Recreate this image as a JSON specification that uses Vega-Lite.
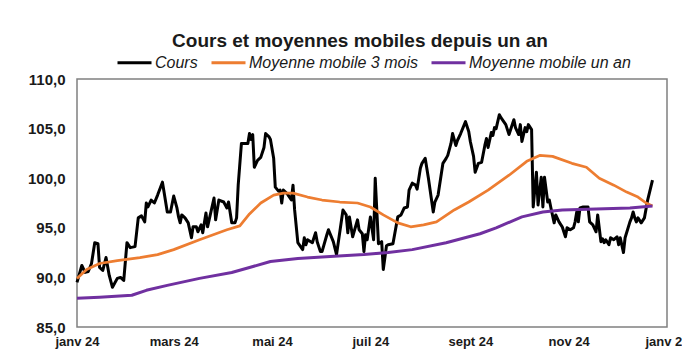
{
  "$schema": "https://vega.github.io/schema/vega-lite/v6.json",
  "width": 590,
  "height": 248,
  "autosize": {"type": "none"},
  "padding": {"left": 77, "top": 79, "right": 15, "bottom": 37},
  "background": "white",
  "config": {
    "font": "Liberation Sans",
    "view": {"stroke": "#808080", "strokeWidth": 1.5}
  },
  "title": {
    "text": "Cours et moyennes mobiles depuis un an",
    "anchor": "middle",
    "dx": -12,
    "offset": -7,
    "font": "Liberation Sans",
    "fontSize": 19,
    "fontWeight": "bold",
    "color": "#1a1a1a"
  },
  "datasets": {
    "cours": [
      {"date":"2024-01-01","valeur":89.5},{"date":"2024-01-04","valeur":91.2},{"date":"2024-01-06","valeur":90.5},{"date":"2024-01-08","valeur":90.6},{"date":"2024-01-10","valeur":91.4},{"date":"2024-01-12","valeur":93.5},{"date":"2024-01-14","valeur":93.4},{"date":"2024-01-15","valeur":91.0},{"date":"2024-01-17","valeur":90.7},{"date":"2024-01-19","valeur":92.0},{"date":"2024-01-21","valeur":90.2},{"date":"2024-01-23","valeur":89.0},{"date":"2024-01-26","valeur":89.9},{"date":"2024-01-28","valeur":90.0},{"date":"2024-01-30","valeur":89.7},
      {"date":"2024-02-01","valeur":93.5},{"date":"2024-02-03","valeur":93.0},{"date":"2024-02-06","valeur":93.1},{"date":"2024-02-08","valeur":96.0},{"date":"2024-02-10","valeur":96.2},{"date":"2024-02-12","valeur":95.6},{"date":"2024-02-13","valeur":97.5},{"date":"2024-02-14","valeur":97.1},{"date":"2024-02-16","valeur":97.8},{"date":"2024-02-18","valeur":97.5},{"date":"2024-02-20","valeur":98.3},{"date":"2024-02-23","valeur":99.6},{"date":"2024-02-24","valeur":98.6},{"date":"2024-02-26","valeur":96.6},{"date":"2024-02-28","valeur":96.6},
      {"date":"2024-03-01","valeur":98.2},{"date":"2024-03-03","valeur":97.0},{"date":"2024-03-04","valeur":96.1},{"date":"2024-03-05","valeur":95.5},{"date":"2024-03-06","valeur":96.3},{"date":"2024-03-08","valeur":96.0},{"date":"2024-03-10","valeur":95.5},{"date":"2024-03-12","valeur":94.0},{"date":"2024-03-13","valeur":95.1},{"date":"2024-03-15","valeur":95.1},{"date":"2024-03-16","valeur":94.6},{"date":"2024-03-18","valeur":95.3},{"date":"2024-03-19","valeur":94.5},{"date":"2024-03-21","valeur":96.5},{"date":"2024-03-22","valeur":95.1},{"date":"2024-03-26","valeur":98.0},{"date":"2024-03-27","valeur":95.8},{"date":"2024-03-29","valeur":97.8},
      {"date":"2024-04-01","valeur":97.6},{"date":"2024-04-03","valeur":97.0},{"date":"2024-04-04","valeur":97.6},{"date":"2024-04-06","valeur":95.5},{"date":"2024-04-08","valeur":95.5},{"date":"2024-04-09","valeur":96.0},{"date":"2024-04-10","valeur":99.3},{"date":"2024-04-12","valeur":103.5},{"date":"2024-04-16","valeur":103.5},{"date":"2024-04-17","valeur":104.5},{"date":"2024-04-18","valeur":103.9},{"date":"2024-04-19","valeur":104.4},{"date":"2024-04-20","valeur":101.1},{"date":"2024-04-22","valeur":101.8},{"date":"2024-04-24","valeur":102.1},{"date":"2024-04-26","valeur":103.1},{"date":"2024-04-27","valeur":104.5},{"date":"2024-04-29","valeur":104.2},{"date":"2024-04-30","valeur":103.9},
      {"date":"2024-05-02","valeur":102.0},{"date":"2024-05-03","valeur":99.1},{"date":"2024-05-05","valeur":98.7},{"date":"2024-05-06","valeur":98.8},{"date":"2024-05-07","valeur":97.5},{"date":"2024-05-08","valeur":98.8},{"date":"2024-05-10","valeur":98.5},{"date":"2024-05-11","valeur":98.3},{"date":"2024-05-13","valeur":97.8},{"date":"2024-05-14","valeur":99.3},{"date":"2024-05-15","valeur":96.8},{"date":"2024-05-17","valeur":93.5},{"date":"2024-05-20","valeur":92.8},{"date":"2024-05-21","valeur":94.0},{"date":"2024-05-22","valeur":93.3},{"date":"2024-05-23","valeur":93.8},{"date":"2024-05-26","valeur":93.5},{"date":"2024-05-28","valeur":94.5},{"date":"2024-05-29","valeur":93.6},{"date":"2024-05-31","valeur":92.6},
      {"date":"2024-06-01","valeur":92.6},{"date":"2024-06-04","valeur":94.3},{"date":"2024-06-05","valeur":94.8},{"date":"2024-06-08","valeur":93.6},{"date":"2024-06-10","valeur":92.3},{"date":"2024-06-14","valeur":96.8},{"date":"2024-06-16","valeur":96.3},{"date":"2024-06-17","valeur":94.5},{"date":"2024-06-18","valeur":96.1},{"date":"2024-06-20","valeur":94.1},{"date":"2024-06-23","valeur":95.8},{"date":"2024-06-24","valeur":94.8},{"date":"2024-06-26","valeur":94.4},{"date":"2024-06-27","valeur":92.6},{"date":"2024-06-28","valeur":94.3},{"date":"2024-06-29","valeur":93.8},
      {"date":"2024-07-01","valeur":96.1},{"date":"2024-07-03","valeur":93.8},{"date":"2024-07-04","valeur":100.0},{"date":"2024-07-06","valeur":93.4},{"date":"2024-07-08","valeur":93.6},{"date":"2024-07-09","valeur":90.8},{"date":"2024-07-11","valeur":93.2},{"date":"2024-07-12","valeur":93.3},{"date":"2024-07-15","valeur":93.4},{"date":"2024-07-18","valeur":96.1},{"date":"2024-07-20","valeur":96.3},{"date":"2024-07-22","valeur":97.0},{"date":"2024-07-24","valeur":97.1},{"date":"2024-07-25","valeur":98.8},{"date":"2024-07-27","valeur":99.5},{"date":"2024-07-29","valeur":99.3},{"date":"2024-07-30","valeur":98.9},
      {"date":"2024-08-01","valeur":101.0},{"date":"2024-08-02","valeur":101.5},{"date":"2024-08-04","valeur":102.0},{"date":"2024-08-06","valeur":100.0},{"date":"2024-08-09","valeur":96.6},{"date":"2024-08-10","valeur":97.6},{"date":"2024-08-12","valeur":98.3},{"date":"2024-08-15","valeur":101.5},{"date":"2024-08-17","valeur":102.0},{"date":"2024-08-18","valeur":102.3},{"date":"2024-08-20","valeur":103.5},{"date":"2024-08-21","valeur":104.5},{"date":"2024-08-23","valeur":103.3},{"date":"2024-08-24","valeur":103.8},{"date":"2024-08-26","valeur":104.5},{"date":"2024-08-29","valeur":105.7},{"date":"2024-08-31","valeur":104.7},
      {"date":"2024-09-01","valeur":103.7},{"date":"2024-09-03","valeur":102.2},{"date":"2024-09-04","valeur":100.6},{"date":"2024-09-06","valeur":101.5},{"date":"2024-09-08","valeur":101.6},{"date":"2024-09-10","valeur":103.3},{"date":"2024-09-11","valeur":104.0},{"date":"2024-09-12","valeur":103.1},{"date":"2024-09-14","valeur":104.6},{"date":"2024-09-15","valeur":104.3},{"date":"2024-09-16","valeur":105.1},{"date":"2024-09-17","valeur":105.0},{"date":"2024-09-19","valeur":106.4},{"date":"2024-09-20","valeur":106.1},{"date":"2024-09-23","valeur":105.4},{"date":"2024-09-25","valeur":104.4},{"date":"2024-09-28","valeur":105.9},{"date":"2024-09-29","valeur":105.1},
      {"date":"2024-10-01","valeur":104.4},{"date":"2024-10-02","valeur":105.4},{"date":"2024-10-03","valeur":103.7},{"date":"2024-10-05","valeur":105.1},{"date":"2024-10-06","valeur":104.7},{"date":"2024-10-07","valeur":105.4},{"date":"2024-10-09","valeur":104.9},{"date":"2024-10-10","valeur":97.1},{"date":"2024-10-12","valeur":100.6},{"date":"2024-10-13","valeur":97.3},{"date":"2024-10-15","valeur":100.1},{"date":"2024-10-16","valeur":97.1},{"date":"2024-10-17","valeur":100.1},{"date":"2024-10-19","valeur":97.6},{"date":"2024-10-20","valeur":97.8},{"date":"2024-10-21","valeur":97.0},{"date":"2024-10-23","valeur":95.5},{"date":"2024-10-24","valeur":96.3},{"date":"2024-10-26","valeur":95.6},{"date":"2024-10-28","valeur":95.1},{"date":"2024-10-30","valeur":94.1},{"date":"2024-10-31","valeur":95.0},
      {"date":"2024-11-02","valeur":94.8},{"date":"2024-11-04","valeur":95.0},{"date":"2024-11-05","valeur":95.6},{"date":"2024-11-06","valeur":96.6},{"date":"2024-11-07","valeur":95.6},{"date":"2024-11-08","valeur":97.0},{"date":"2024-11-10","valeur":97.1},{"date":"2024-11-13","valeur":97.1},{"date":"2024-11-14","valeur":95.6},{"date":"2024-11-16","valeur":95.3},{"date":"2024-11-18","valeur":94.6},{"date":"2024-11-19","valeur":96.3},{"date":"2024-11-21","valeur":93.6},{"date":"2024-11-22","valeur":93.9},{"date":"2024-11-23","valeur":93.5},{"date":"2024-11-24","valeur":93.8},{"date":"2024-11-26","valeur":93.3},{"date":"2024-11-27","valeur":94.0},{"date":"2024-11-29","valeur":93.8},
      {"date":"2024-12-01","valeur":94.1},{"date":"2024-12-02","valeur":93.3},{"date":"2024-12-03","valeur":94.0},{"date":"2024-12-05","valeur":92.5},{"date":"2024-12-06","valeur":94.0},{"date":"2024-12-09","valeur":95.6},{"date":"2024-12-10","valeur":96.0},{"date":"2024-12-11","valeur":96.6},{"date":"2024-12-12","valeur":96.0},{"date":"2024-12-13","valeur":95.6},{"date":"2024-12-14","valeur":96.0},{"date":"2024-12-16","valeur":95.5},{"date":"2024-12-18","valeur":96.0},{"date":"2024-12-20","valeur":97.8},{"date":"2024-12-23","valeur":99.8}
    ],
    "mm3": [
      {"date":"2024-01-01","valeur":89.9},{"date":"2024-01-07","valeur":90.8},{"date":"2024-01-15","valeur":91.4},{"date":"2024-01-26","valeur":91.7},{"date":"2024-02-09","valeur":92.0},{"date":"2024-02-20","valeur":92.3},{"date":"2024-03-01","valeur":92.8},{"date":"2024-03-17","valeur":93.8},{"date":"2024-04-03","valeur":94.8},{"date":"2024-04-11","valeur":95.2},{"date":"2024-04-17","valeur":96.4},{"date":"2024-04-24","valeur":97.5},{"date":"2024-05-02","valeur":98.3},{"date":"2024-05-08","valeur":98.5},{"date":"2024-05-14","valeur":98.5},{"date":"2024-05-23","valeur":98.1},{"date":"2024-06-01","valeur":97.8},{"date":"2024-06-12","valeur":97.6},{"date":"2024-06-23","valeur":97.5},{"date":"2024-07-01","valeur":97.1},{"date":"2024-07-09","valeur":96.3},{"date":"2024-07-18","valeur":95.5},{"date":"2024-07-26","valeur":95.1},{"date":"2024-08-03","valeur":95.3},{"date":"2024-08-11","valeur":95.6},{"date":"2024-08-22","valeur":96.8},{"date":"2024-08-31","valeur":97.6},{"date":"2024-09-12","valeur":98.8},{"date":"2024-09-25","valeur":100.3},{"date":"2024-10-06","valeur":101.7},{"date":"2024-10-14","valeur":102.3},{"date":"2024-10-22","valeur":102.2},{"date":"2024-11-03","valeur":101.5},{"date":"2024-11-12","valeur":101.1},{"date":"2024-11-20","valeur":100.0},{"date":"2024-11-29","valeur":99.3},{"date":"2024-12-07","valeur":98.6},{"date":"2024-12-14","valeur":98.1},{"date":"2024-12-19","valeur":97.5},{"date":"2024-12-23","valeur":97.2}
    ],
    "mm12": [
      {"date":"2024-01-01","valeur":87.9},{"date":"2024-01-15","valeur":88.0},{"date":"2024-02-04","valeur":88.2},{"date":"2024-02-13","valeur":88.7},{"date":"2024-02-26","valeur":89.2},{"date":"2024-03-17","valeur":89.9},{"date":"2024-04-06","valeur":90.5},{"date":"2024-04-17","valeur":91.0},{"date":"2024-04-30","valeur":91.6},{"date":"2024-05-17","valeur":91.9},{"date":"2024-06-06","valeur":92.1},{"date":"2024-06-27","valeur":92.3},{"date":"2024-07-12","valeur":92.5},{"date":"2024-07-27","valeur":92.8},{"date":"2024-08-17","valeur":93.5},{"date":"2024-09-07","valeur":94.4},{"date":"2024-09-17","valeur":95.0},{"date":"2024-10-03","valeur":96.1},{"date":"2024-10-16","valeur":96.6},{"date":"2024-10-28","valeur":96.8},{"date":"2024-11-18","valeur":96.9},{"date":"2024-12-09","valeur":97.0},{"date":"2024-12-23","valeur":97.2}
    ]
  },
  "layer": [
    {
      "data": {"name": "cours"},
      "transform": [{"calculate": "'Cours'", "as": "serie"}],
      "mark": {"type": "line", "strokeWidth": 3, "strokeJoin": "round"},
      "encoding": {
        "x": {"field": "date", "type": "temporal"},
        "y": {"field": "valeur", "type": "quantitative"},
        "color": {"field": "serie", "type": "nominal"}
      }
    },
    {
      "data": {"name": "mm3"},
      "transform": [{"calculate": "'Moyenne mobile 3 mois'", "as": "serie"}],
      "mark": {"type": "line", "strokeWidth": 2.75, "strokeJoin": "round"},
      "encoding": {
        "x": {"field": "date", "type": "temporal"},
        "y": {"field": "valeur", "type": "quantitative"},
        "color": {"field": "serie", "type": "nominal"}
      }
    },
    {
      "data": {"name": "mm12"},
      "transform": [{"calculate": "'Moyenne mobile un an'", "as": "serie"}],
      "mark": {"type": "line", "strokeWidth": 3, "strokeJoin": "round"},
      "encoding": {
        "x": {"field": "date", "type": "temporal"},
        "y": {"field": "valeur", "type": "quantitative"},
        "color": {"field": "serie", "type": "nominal"}
      }
    }
  ],
  "resolve": {"scale": {"color": "shared"}},
  "encoding": {
    "x": {
      "field": "date",
      "type": "temporal",
      "title": null,
      "scale": {
        "type": "utc",
        "domain": [
          {"year": 2024, "month": 1, "date": 1, "utc": true},
          {"year": 2025, "month": 1, "date": 1, "utc": true}
        ],
        "nice": false
      },
      "axis": {
        "tickCount": {"interval": "month", "step": 2},
        "labelExpr": "['janv','févr','mars','avr','mai','juin','juil','août','sept','oct','nov','déc'][utcmonth(datum.value)] + ' ' + utcFormat(datum.value, '%y')",
        "labelFlush": false,
        "labelOverlap": false,
        "labelFont": "Liberation Sans",
        "labelFontSize": 13,
        "labelFontWeight": "bold",
        "labelColor": "#1a1a1a",
        "labelPadding": 8,
        "ticks": false,
        "tickSize": 0,
        "domain": false,
        "grid": false
      }
    },
    "y": {
      "field": "valeur",
      "type": "quantitative",
      "title": null,
      "scale": {"domain": [85, 110], "nice": false, "zero": false},
      "axis": {
        "values": [85, 90, 95, 100, 105, 110],
        "labelExpr": "replace(format(datum.value, '.1f'), '.', ',')",
        "labelFont": "Liberation Sans",
        "labelFontSize": 15,
        "labelFontWeight": "bold",
        "labelColor": "#1a1a1a",
        "labelPadding": 12,
        "ticks": false,
        "tickSize": 0,
        "domain": false,
        "grid": false
      }
    },
    "color": {
      "field": "serie",
      "type": "nominal",
      "scale": {
        "domain": ["Cours", "Moyenne mobile 3 mois", "Moyenne mobile un an"],
        "range": ["#000000", "#ED7D31", "#7030A0"]
      },
      "legend": {
        "title": null,
        "orient": "none",
        "direction": "horizontal",
        "legendX": 39,
        "legendY": -35,
        "symbolType": "stroke",
        "symbolSize": 1156,
        "symbolStrokeWidth": 3,
        "labelFont": "Liberation Sans",
        "labelFontSize": 16,
        "labelFontStyle": "italic",
        "labelColor": "#1a1a1a",
        "labelOffset": 2,
        "labelLimit": 0,
        "columnPadding": 7
      }
    }
  }
}
